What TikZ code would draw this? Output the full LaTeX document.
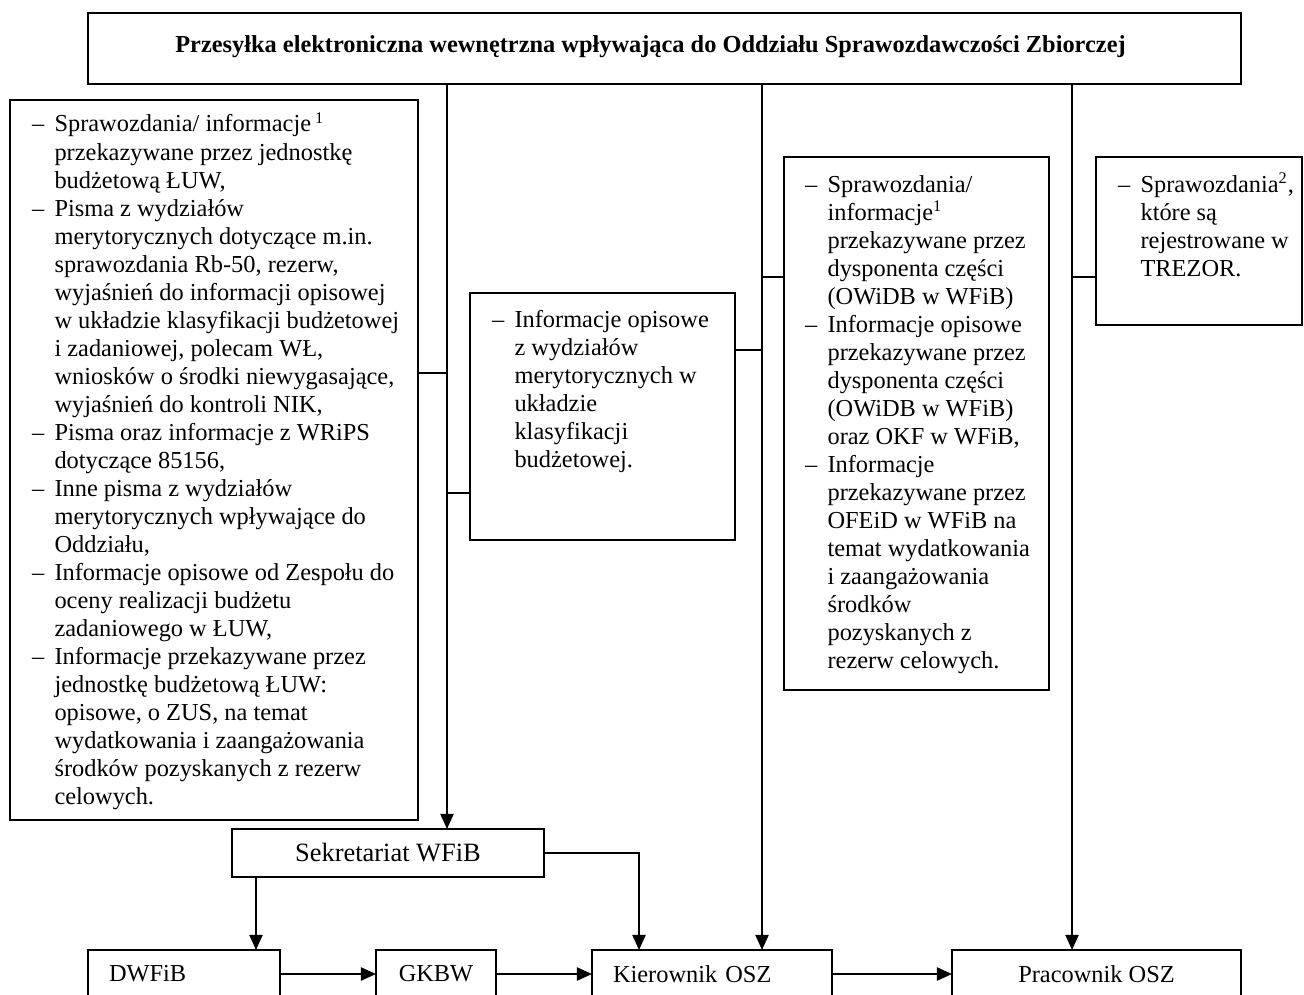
\documentclass[tikz,border=0pt]{standalone}
\usepackage{fontspec}
\setmainfont{Liberation Serif}
\usetikzlibrary{arrows.meta}
\newlength\pxu
\setlength\pxu{0.4923pt}
\newcommand\dashitem{\makebox[11.1pt][l]{–}}
\newcommand\contline{\hspace*{11.1pt}}
\newcommand\bodyfont{\fontsize{12}{13.8}\selectfont}
\newcommand\bigbodyfont{\fontsize{13}{15}\selectfont}

\tikzset{
  frame/.style={draw=black, line width=0.85pt, inner sep=0pt, outer sep=0pt, anchor=north west},
  listtext/.style={inner sep=0pt, outer sep=0pt, anchor=base west, font=\bodyfont},
  conn/.style={line width=1pt, -{Triangle[length=7.5pt,width=6.5pt]}},
  link/.style={line width=1pt},
}

\begin{document}
\begin{tikzpicture}[x=\pxu, y=-\pxu]
\clip (0,0) rectangle (1304,994);
\fill[white] (0,0) rectangle (1304,994);

% header
\node[frame, minimum width=1153\pxu, minimum height=71\pxu, font=\bodyfont\bfseries] (top) at (88,13)
  {\hspace*{-28\pxu}Przesyłka elektroniczna wewnętrzna wpływająca do Oddziału Sprawozdawczości Zbiorczej\rule[-4pt]{0pt}{4pt}};

% document groups
\node[frame, minimum width=408\pxu, minimum height=720\pxu] (L) at (10,100) {};
\node[listtext] (Lt) at (32,132) {\parbox[t]{200pt}{%
\dashitem Sprawozdania/ informacje\,\textsuperscript{1}\\
\contline przekazywane przez jednostkę\\
\contline budżetową ŁUW,\\
\dashitem Pisma z wydziałów\\
\contline merytorycznych dotyczące m.in.\\
\contline sprawozdania Rb-50, rezerw,\\
\contline wyjaśnień do informacji opisowej\\
\contline w układzie klasyfikacji budżetowej\\
\contline i zadaniowej, polecam WŁ,\\
\contline wniosków o środki niewygasające,\\
\contline wyjaśnień do kontroli NIK,\\
\dashitem Pisma oraz informacje z WRiPS\\
\contline dotyczące 85156,\\
\dashitem Inne pisma z wydziałów\\
\contline merytorycznych wpływające do\\
\contline Oddziału,\\
\dashitem Informacje opisowe od Zespołu do\\
\contline oceny realizacji budżetu\\
\contline zadaniowego w ŁUW,\\
\dashitem Informacje przekazywane przez\\
\contline jednostkę budżetową ŁUW:\\
\contline opisowe, o ZUS, na temat\\
\contline wydatkowania i zaangażowania\\
\contline środków pozyskanych z rezerw\\
\contline celowych.}};

\node[frame, minimum width=265\pxu, minimum height=247\pxu] (mid) at (470,293) {};
\node[listtext] (midt) at (492,327) {\parbox[t]{120pt}{%
\dashitem Informacje opisowe\\
\contline z wydziałów\\
\contline merytorycznych w\\
\contline układzie\\
\contline klasyfikacji\\
\contline budżetowej.}};

\node[frame, minimum width=265\pxu, minimum height=533\pxu] (rm) at (784,157) {};
\node[listtext] (rmt) at (805,192) {\parbox[t]{120pt}{%
\dashitem Sprawozdania/\\
\contline informacje\textsuperscript{1}\\
\contline przekazywane przez\\
\contline dysponenta części\\
\contline (OWiDB w WFiB)\\
\dashitem Informacje opisowe\\
\contline przekazywane przez\\
\contline dysponenta części\\
\contline (OWiDB w WFiB)\\
\contline oraz OKF w WFiB,\\
\dashitem Informacje\\
\contline przekazywane przez\\
\contline OFEiD w WFiB na\\
\contline temat wydatkowania\\
\contline i zaangażowania\\
\contline środków\\
\contline pozyskanych z\\
\contline rezerw celowych.}};

\node[frame, minimum width=206\pxu, minimum height=168\pxu] (rt) at (1096,157) {};
\node[listtext] (rtt) at (1118,192) {\parbox[t]{100pt}{%
\dashitem Sprawozdania\textsuperscript{2},\\
\contline które są\\
\contline rejestrowane w\\
\contline TREZOR.}};

% processing chain
\node[frame, minimum width=312\pxu, minimum height=48\pxu, font=\bigbodyfont] (sek) at (232,829) {Sekretariat WFiB};
\node[frame, minimum height=48\pxu, text width=150\pxu, inner xsep=21\pxu, align=left, font=\bodyfont] (dw) at (88,950) {DWFiB};
\node[frame, minimum width=120\pxu, minimum height=48\pxu, font=\bodyfont] (gk) at (376,950) {GKBW};
\node[frame, minimum height=48\pxu, text width=198\pxu, inner xsep=21\pxu, align=left, font=\bodyfont] (kier) at (592,950) {Kierownik OSZ};
\node[frame, minimum width=289\pxu, minimum height=48\pxu, font=\bodyfont] (prac) at (952,950) {Pracownik OSZ};

% trunk lines
\coordinate (cA) at (447,0);
\coordinate (cB) at (762,0);
\coordinate (cC) at (1072,0);
\coordinate (cD) at (256,0);
\coordinate (cK) at (639,0);

\draw[conn] (top.south -| cA) -- (sek.north -| cA);
\draw[conn] (top.south -| cB) -- (kier.north -| cB);
\draw[conn] (top.south -| cC) -- (prac.north -| cC);

% branches
\coordinate (sA1) at (447,373);
\coordinate (sA2) at (447,493);
\coordinate (sB1) at (762,350);
\coordinate (sB2) at (762,277);
\coordinate (sC) at (1072,277);
\draw[link] (L.east |- sA1) -- (sA1);
\draw[link] (sA2) -- (mid.west |- sA2);
\draw[link] (mid.east |- sB1) -- (sB1);
\draw[link] (sB2) -- (rm.west |- sB2);
\draw[link] (sC) -- (rt.west |- sC);

% flow between units
\draw[conn] (sek.south -| cD) -- (dw.north -| cD);
\draw[conn] (sek.east) -| (kier.north -| cK);
\draw[conn] (dw.east) -- (gk.west);
\draw[conn] (gk.east) -- (kier.west);
\draw[conn] (kier.east) -- (prac.west);
\end{tikzpicture}
\end{document}
